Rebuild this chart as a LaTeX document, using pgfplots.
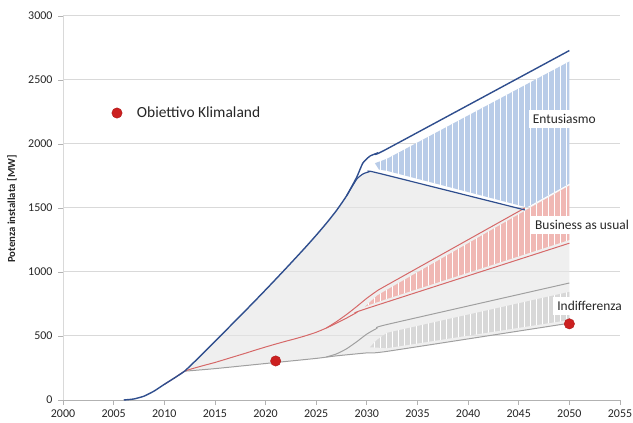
\documentclass[border=0pt]{standalone}
\usepackage{pgfplots}
\pgfplotsset{compat=1.18}
\usepackage{fontspec}
\setmainfont{Carlito}
\usetikzlibrary{patterns}

\definecolor{bline}{RGB}{47,78,142}
\definecolor{rline}{RGB}{214,104,104}
\definecolor{gline}{RGB}{160,160,160}
\definecolor{bhatch}{RGB}{185,204,232}
\definecolor{rhatch}{RGB}{240,184,180}
\definecolor{ghatch}{RGB}{216,216,216}
\definecolor{gridc}{RGB}{217,217,217}
\definecolor{dotred}{RGB}{204,32,32}

\pgfdeclarepatternformonly{vstripes}{\pgfqpoint{0bp}{-3bp}}{\pgfqpoint{6bp}{9bp}}{\pgfqpoint{6bp}{6bp}}{%
  \pgfpathrectangle{\pgfqpoint{2bp}{-3bp}}{\pgfqpoint{1.3bp}{12bp}}%
  \pgfusepath{fill}}

\begin{document}
\begin{tikzpicture}
\path[use as bounding box] (0,0) rectangle (633bp,423bp);
\begin{axis}[
  scale only axis, width=557bp, height=384bp,
  at={(63bp,23bp)}, anchor=south west,
  xmin=2000, xmax=2055, ymin=0, ymax=3000,
  xtick={2000,2005,...,2055}, ytick={0,500,...,3000},
  /pgf/number format/1000 sep={},
  /pgf/number format/assume math mode=true,
  axis x line*=bottom, axis y line*=left,
  x axis line style={draw=black!30, line width=0.8bp, -},
  y axis line style={draw=black!15, line width=0.8bp, -},
  tick align=outside, major tick length=5bp,
  tick style={draw=black!30, line width=0.8bp},
  ymajorgrids, major grid style={draw=gridc, line width=1bp},
  tick label style={font=\fontsize{12}{13}\selectfont, text=black!85},
  yticklabel style={xshift=-2bp},
  xticklabel style={yshift=-1bp},
  ylabel={\bfseries Potenza installata [MW]},
  ylabel style={at={(axis description cs:-0.0916,0.497)}, anchor=center, font=\fontsize{10.8}{12}\selectfont, text=black!85},
  clip=false,
  legend style={at={(axis cs:2004.6,2242)}, anchor=west, draw=none, fill=white,
    font=\fontsize{15.5}{17}\selectfont, text=black!85, inner sep=2bp},
  legend image code/.code={\path[draw=none] (0bp,0bp) -- (18bp,0bp);
    \path[draw=none] plot[mark=*, mark size=5.2bp, mark options={fill=dotred, draw=dotred!85!black}] coordinates {(0bp,0bp)};},
]
% gray background area
\addplot[forget plot, draw=none, fill=black!10, fill opacity=0.6] coordinates {
(2012,225)(2015,245)(2020,285)(2025,325)(2027,345)(2030,368)(2032,380)(2050,600)(2050,1680)(2045.6,1485)(2031,1775)(2030.2,1782)(2029.6,1765)(2029,1725)(2028,1595)(2027,1480)(2026,1380)(2025,1287)(2024,1198)(2023,1112)(2022,1027)(2021,943)(2020,860)(2019,778)(2018,697)(2017,617)(2016,537)(2015,457)(2014,378)(2013,300)(2012,225)} -- cycle;
% hatched areas
\addplot[forget plot, draw=none, fill=bhatch, postaction={pattern=vstripes, pattern color=white}] coordinates {
(2030.8,1850)(2032,1885)(2050,2645)(2050,1690)(2045.8,1505)(2032,1790)(2031.2,1800)} -- cycle;
\addplot[forget plot, draw=none, fill=rhatch, postaction={pattern=vstripes, pattern color=white}] coordinates {
(2029.8,728)(2031,815)(2032,862)(2045.6,1478)(2050,1675)(2050,1250)(2032,790)(2030.5,750)} -- cycle;
\addplot[forget plot, draw=none, fill=ghatch, postaction={pattern=vstripes, pattern color=white}] coordinates {
(2030.3,412)(2031,470)(2032,525)(2050,845)(2050,625)(2032,405)} -- cycle;
% gray lines (Indifferenza)
\addplot[forget plot, gline, line width=1bp, smooth, tension=0.3] coordinates {
(2012,225)(2015,245)(2020,285)(2025,325)(2027,345)(2030,368)(2032,380)(2050,600)};
\addplot[forget plot, gline, line width=1bp, smooth, tension=0.3] coordinates {
(2026,336)(2027,360)(2028,400)(2029,455)(2030,515)(2031,560)(2032,590)(2050,914)};
% red lines (Business as usual)
\addplot[forget plot, rline, line width=1bp, smooth, tension=0.3] coordinates {
(2010,122)(2011,172)(2012,225)(2013,250)(2014,272)(2015,293)(2016,317)(2017,341)(2018,365)(2019,390)(2020,414)(2021,437)(2022,459)(2023,480)(2024,503)(2025,529)(2026,562)(2027,600)(2028,640)(2029,683)(2030,715)(2050,1225)};
\addplot[forget plot, rline, line width=1bp, smooth, tension=0.3] coordinates {
(2026,562)(2027,612)(2028,668)(2029,730)(2030,795)(2031,852)(2032,898)(2045.6,1500)};
% blue lines (Entusiasmo)
\addplot[forget plot, bline, line width=1.2bp, smooth, tension=0.3] coordinates {
(2028,1595)(2029,1725)(2029.6,1765)(2030.2,1782)(2031,1775)(2045.6,1485)};
\addplot[forget plot, bline, line width=1.4bp, smooth, tension=0.3] coordinates {
(2006,0)(2007,8)(2008,30)(2009,70)(2010,122)(2011,172)(2012,225)(2013,300)(2014,378)(2015,457)(2016,537)(2017,617)(2018,697)(2019,778)(2020,860)(2021,943)(2022,1027)(2023,1112)(2024,1198)(2025,1287)(2026,1380)(2027,1480)(2028,1595)(2029,1740)(2029.6,1850)(2030.3,1905)(2031,1928)(2032,1962)(2050,2730)};
% labels
\node[fill=white, inner sep=4bp, font=\fontsize{13.5}{15}\selectfont, text=black!85] at (axis cs:2049.5,2195) {Entusiasmo};
\node[fill=white, inner sep=4bp, font=\fontsize{13.5}{15}\selectfont, text=black!85] at (axis cs:2051.25,1367) {Business as usual};
\node[fill=white, inner sep=4bp, font=\fontsize{13.5}{15}\selectfont, text=black!85] at (axis cs:2052.0,734) {Indifferenza};
% Klimaland targets
\addplot[only marks, mark=*, mark size=5.2bp, mark options={fill=dotred, draw=dotred!85!black}] coordinates {(2021,305)(2050,595)};
\addlegendentry{Obiettivo Klimaland}
\end{axis}
\end{tikzpicture}
\end{document}
